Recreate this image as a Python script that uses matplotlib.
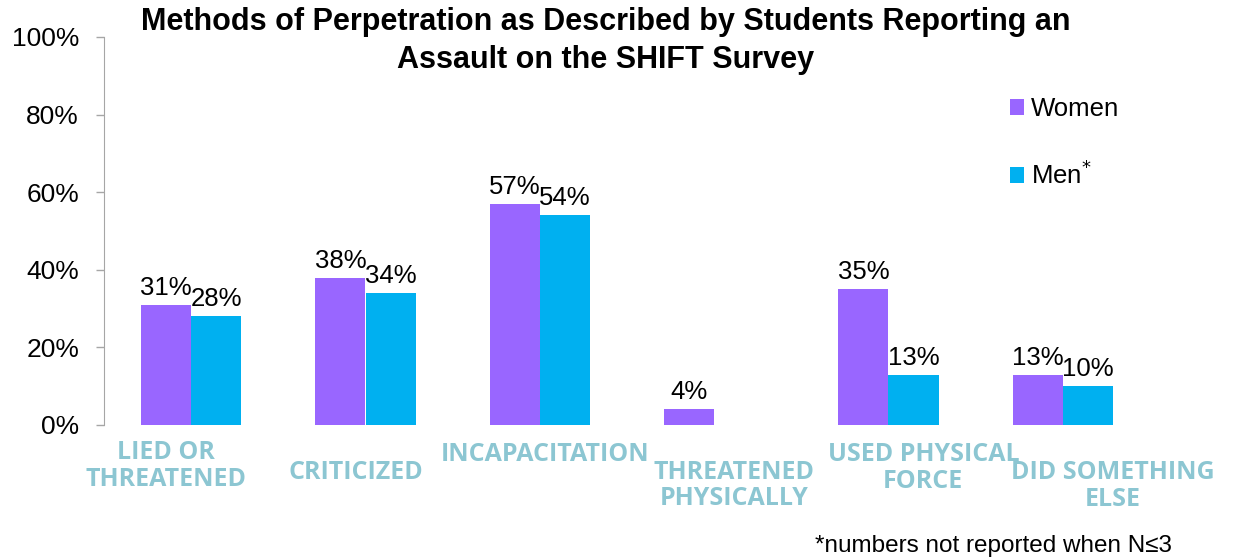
import numpy as np
import matplotlib.pyplot as plt

categories = ["LIED OR\nTHREATENED", "CRITICIZED", "INCAPACITATION",
              "THREATENED\nPHYSICALLY", "USED PHYSICAL\nFORCE", "DID SOMETHING\nELSE"]
women = [31, 38, 57, 4, 35, 13]
men = [28, 34, 54, np.nan, 13, 10]
yticks = [0, 20, 40, 60, 80, 100]

plt.rcParams['font.family'] = ['Liberation Sans', 'DejaVu Sans']

fig = plt.figure(figsize=(12.34, 5.6), dpi=100)
ax = fig.add_axes([104 / 1234, 1 - 425 / 560, 1046 / 1234, 388 / 560])

x = np.arange(len(categories))
w = 0.287
bw = ax.bar(x - w / 2, women, w, color='#9966FF', label='Women')
bm = ax.bar(x + w / 2, men, w, color='#00B0F0', label='Men$^{*}$')

for rect, v in zip(bw, women):
    ax.text(rect.get_x() + rect.get_width() / 2, v + 1.3, f"{v}%", ha='center', va='bottom', fontsize=18.5)
for rect, v in zip(bm, men):
    if not np.isnan(v):
        ax.text(rect.get_x() + rect.get_width() / 2, v + 1.3, f"{int(v)}%", ha='center', va='bottom', fontsize=18.5)

ax.set_xlim(-0.5, len(categories) - 0.5)
ax.set_ylim(0, 100)
ax.set_yticks(yticks)
ax.set_yticklabels([f"{t}%" for t in yticks])
ax.tick_params(axis='y', length=6, width=1, color='#a6a6a6', pad=12, labelsize=19)
ax.set_xticks([])
for s in ['top', 'right', 'bottom']:
    ax.spines[s].set_visible(False)
ax.spines['left'].set_color('#a6a6a6')

# category labels sit on their own, slightly wider spacing than the bars
label_x = (x - 2) * 1.086 + 2.028
label_y = [-3.9, -8.9, -4.4, -8.9, -4.4, -9.1]
for lx, lab, ly in zip(label_x, categories, label_y):
    ax.text(lx, ly, lab, ha='center', va='top', fontsize=18, color='#8cc6d2',
            family=['Open Sans', 'DejaVu Sans'], fontweight='bold', linespacing=1.08)

ax.legend(loc='upper left', bbox_to_anchor=(0.844, 0.905), frameon=False, fontsize=18.5,
          handlelength=0.55, handleheight=0.55, handletextpad=0.25, labelspacing=1.55)

fig.text(0.491, 0.988, "Methods of Perpetration as Described by Students Reporting an\nAssault on the SHIFT Survey",
         ha='center', va='top', fontsize=22, fontweight='bold', linespacing=1.35)
fig.text(0.95, 0.006, "*numbers not reported when N≤3", ha='right', va='bottom', fontsize=17.5)

fig.savefig('out.png', dpi=100)
